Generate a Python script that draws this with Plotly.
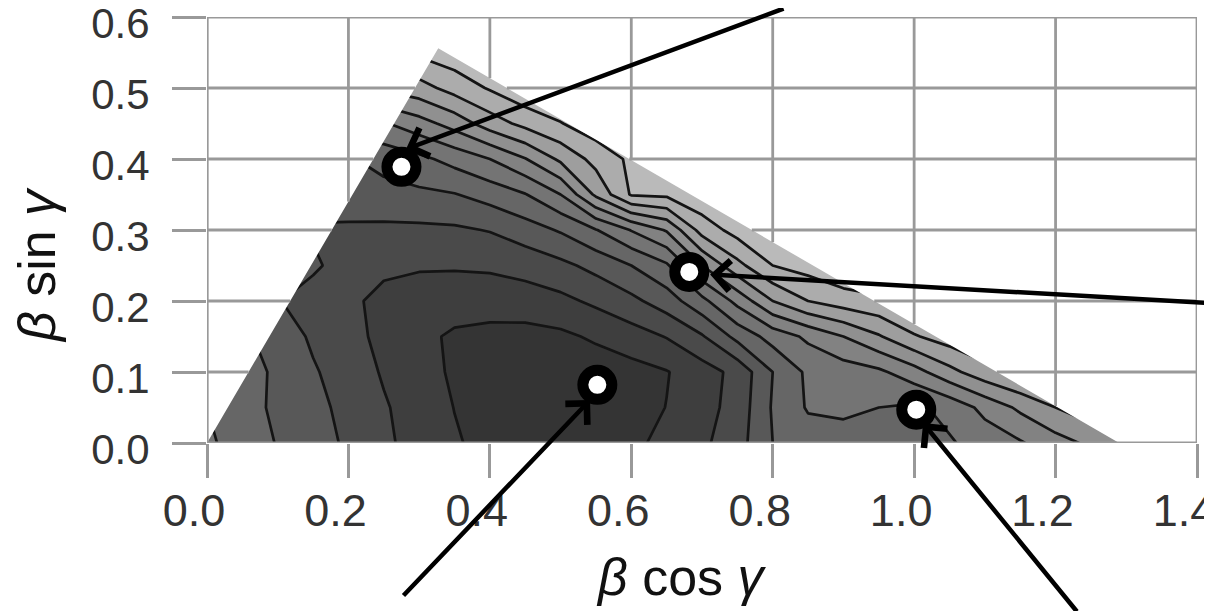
import plotly.graph_objects as go

# ---------------- data ----------------
# node coordinates of the sampled surface
X_GRID = [0.00, 0.05, 0.10, 0.15, 0.20, 0.25, 0.30, 0.35, 0.40, 0.45,
          0.50, 0.55, 0.60, 0.65, 0.70, 0.75, 0.80, 0.85, 0.90, 0.95,
          1.00, 1.05, 1.10, 1.15, 1.20, 1.25, 1.30, 1.35, 1.40]
Y_GRID = [0.00, 0.05, 0.10, 0.15, 0.20, 0.25, 0.30, 0.35, 0.40, 0.45,
          0.50, 0.55, 0.60]

# surface value (contour level index) per row of Y_GRID
Z_Y000 = [5.2, 4.5, 3.95, 3.4, 2.85, 2.2, 1.6, 1.1, 0.7, 0.5, 0.45, 0.5, 0.8, 1.25, 1.8,
          2.6, 4.0, 4.5, 4.6, 4.5, 4.4, 4.9, 5.4, 5.9, 6.6, 7.2, 7.7, 8.2, 8.7]
Z_Y005 = [5.0, 4.3, 3.85, 3.3, 2.7, 2.1, 1.55, 0.98, 0.6, 0.4, 0.35, 0.38, 0.6, 1.02, 1.6,
          2.4, 4.1, 5.1, 5.2, 5.0, 4.8, 5.3, 6.3, 7.2, 8.0, 8.6, 9.1, 9.5, 9.9]
Z_Y010 = [5.0, 4.6, 3.75, 3.1, 2.55, 1.9, 1.4, 0.85, 0.5, 0.4, 0.4, 0.45, 0.65, 0.95, 1.55,
          2.3, 4.0, 5.2, 5.5, 5.8, 6.6, 7.7, 8.6, 9.2, 9.7, 10.1, 10.5, 10.8, 11.0]
Z_Y015 = [4.6, 4.2, 3.55, 2.85, 2.25, 1.8, 1.25, 0.85, 0.7, 0.65, 0.8, 1.15, 1.55, 2.05, 2.9,
          4.3, 5.4, 6.2, 7.0, 7.9, 8.9, 9.5, 10.0, 10.4, 10.7, 11.0, 11.0, 11.0, 11.0]
Z_Y020 = [4.2, 3.7, 3.05, 2.6, 2.15, 1.8, 1.55, 1.45, 1.45, 1.55, 1.75, 2.2, 2.75, 3.5, 4.7,
          6.3, 8.0, 9.0, 9.5, 9.8, 10.3, 10.7, 11.0, 11.0, 11.0, 11.0, 11.0, 11.0, 11.0]
Z_Y025 = [4.0, 3.7, 3.4, 3.15, 2.6, 2.15, 2.1, 2.1, 2.15, 2.35, 2.75, 3.3, 4.0, 4.85, 7.0,
          8.7, 10.0, 10.4, 10.9, 11.0, 11.0, 11.0, 11.0, 11.0, 11.0, 11.0, 11.0, 11.0, 11.0]
Z_Y030 = [3.6, 3.4, 3.15, 2.9, 2.85, 2.8, 2.8, 2.85, 3.05, 3.55, 4.1, 4.95, 6.05, 7.1, 9.4,
          10.4, 11.0, 11.0, 11.0, 11.0, 11.0, 11.0, 11.0, 11.0, 11.0, 11.0, 11.0, 11.0, 11.0]
Z_Y035 = [3.7, 3.6, 3.5, 3.4, 3.5, 3.65, 3.8, 3.95, 4.4, 4.95, 6.0, 8.2, 10.1, 10.2, 10.8,
          11.0, 11.0, 11.0, 11.0, 11.0, 11.0, 11.0, 11.0, 11.0, 11.0, 11.0, 11.0, 11.0, 11.0]
Z_Y040 = [3.9, 3.9, 3.9, 3.9, 3.9, 4.35, 4.75, 5.35, 6.0, 6.95, 8.2, 9.35, 10.2, 10.8, 11.0,
          11.0, 11.0, 11.0, 11.0, 11.0, 11.0, 11.0, 11.0, 11.0, 11.0, 11.0, 11.0, 11.0, 11.0]
Z_Y045 = [5.9, 5.9, 5.9, 5.9, 5.9, 5.9, 6.6, 7.4, 8.5, 9.3, 9.95, 10.6, 11.0, 11.0, 11.0,
          11.0, 11.0, 11.0, 11.0, 11.0, 11.0, 11.0, 11.0, 11.0, 11.0, 11.0, 11.0, 11.0, 11.0]
Z_Y050 = [8.2, 8.2, 8.2, 8.2, 8.2, 8.2, 8.6, 9.4, 10.1, 10.8, 11.0, 11.0, 11.0, 11.0, 11.0,
          11.0, 11.0, 11.0, 11.0, 11.0, 11.0, 11.0, 11.0, 11.0, 11.0, 11.0, 11.0, 11.0, 11.0]
Z_Y055 = [10.0, 10.0, 10.0, 10.0, 10.0, 10.0, 10.2, 10.6, 11.0, 11.0, 11.0, 11.0, 11.0, 11.0, 11.0,
          11.0, 11.0, 11.0, 11.0, 11.0, 11.0, 11.0, 11.0, 11.0, 11.0, 11.0, 11.0, 11.0, 11.0]
Z_Y060 = [11.0, 11.0, 11.0, 11.0, 11.0, 11.0, 11.0, 11.0, 11.0, 11.0, 11.0, 11.0, 11.0, 11.0, 11.0,
          11.0, 11.0, 11.0, 11.0, 11.0, 11.0, 11.0, 11.0, 11.0, 11.0, 11.0, 11.0, 11.0, 11.0]

# corners of the calculated (triangular) domain
TRI_X = [0.0, 0.327, 1.29]
TRI_Y = [0.0, 0.556, 0.0]

# highlighted points
MARK_X = [0.275, 0.682, 0.552, 1.003]
MARK_Y = [0.389, 0.241, 0.082, 0.047]

X_TICKS = [0.0, 0.2, 0.4, 0.6, 0.8, 1.0, 1.2, 1.4]
X_TICK_LABELS = ["0.0", "0.2", "0.4", "0.6", "0.8", "1.0", "1.2", "1.4"]
Y_TICKS = [0.0, 0.1, 0.2, 0.3, 0.4, 0.5, 0.6]
Y_TICK_LABELS = ["0.0", "0.1", "0.2", "0.3", "0.4", "0.5", "0.6"]

BAND_COLORS = ["#343434", "#3e3e3e", "#4a4a4a", "#585858", "#666666", "#747474",
               "#828282", "#909090", "#9e9e9e", "#acacac", "#bababa"]

# ---------------- layout constants ----------------
W, H = 1212, 611
PAGE = 8                      # page body margin of the html page
ML, MT = 207 - PAGE, 17 - PAGE
PW, PH = 990, 426             # plot area size in px
MR = W - ML - PW
MB = H - MT - PH
XR = [0.0, 1.4]
YR = [0.0, 0.6]
GRID_COLOR = "#999999"
GRID_W = 2.8
FONT = "Liberation Sans"
TICK_FONT = "Liberation Sans"


def paper_x(px):  # px: window pixel
    return (px - PAGE - ML) / PW


def paper_y(py):  # py: window pixel
    return (MT + PH - (py - PAGE)) / PH


Z = [Z_Y000, Z_Y005, Z_Y010, Z_Y015, Z_Y020, Z_Y025, Z_Y030,
     Z_Y035, Z_Y040, Z_Y045, Z_Y050, Z_Y055, Z_Y060]

n_b = len(BAND_COLORS)
colorscale = [[i / (n_b - 1), c] for i, c in enumerate(BAND_COLORS)]

fig = go.Figure()
fig.add_trace(go.Contour(
    x=X_GRID, y=Y_GRID, z=Z,
    contours=dict(start=1, end=10, size=1, coloring="fill", showlines=True),
    colorscale=colorscale,
    line=dict(color="#141414", width=2.7, smoothing=0),
    showscale=False,
    hoverinfo="skip",
))

fig.add_trace(go.Scatter(
    x=MARK_X, y=MARK_Y, mode="markers",
    marker=dict(size=29, color="white", line=dict(color="black", width=11)),
    hoverinfo="skip",
))

# ---------------- mask outside the triangle + grid outside ----------------
x0, x1, x2 = TRI_X
y0, y1, y2 = TRI_Y
shapes = []
mask_path = (f"M {XR[0]},{YR[0]} L {XR[1]},{YR[0]} L {XR[1]},{YR[1]} L {XR[0]},{YR[1]} Z "
             f"M {x0},{y0} L {x1},{y1} L {x2},{y2} Z")
shapes.append(dict(type="path", path=mask_path, xref="x", yref="y",
                   fillcolor="white", line=dict(width=0), layer="above"))


def tri_top(c):
    if c <= x0 or c >= x2:
        return YR[0]
    if c <= x1:
        return y1 * (c - x0) / (x1 - x0)
    return y1 * (x2 - c) / (x2 - x1)


def tri_span(c):
    xl = x0 + (x1 - x0) * c / y1
    xr = x2 - (x2 - x1) * c / y1
    return xl, xr


def gline(xa, ya, xb, yb):
    shapes.append(dict(type="line", xref="x", yref="y", x0=xa, y0=ya, x1=xb, y1=yb,
                       line=dict(color=GRID_COLOR, width=GRID_W), layer="above"))


for c in X_TICKS:
    gline(c, tri_top(c), c, YR[1])
for c in Y_TICKS:
    if c <= YR[0] or c >= y1:
        gline(XR[0], c, XR[1], c)
    else:
        xl, xr = tri_span(c)
        gline(XR[0], c, xl, c)
        gline(xr, c, XR[1], c)
gline(XR[0], YR[0], XR[0], YR[1])

# ---------------- arrows ----------------
# (head x, head y) in data units, tail offset in pixels
ARROWS = [
    (0.2815, 0.414, 379, -159),
    (0.7115, 0.2373, 506, 29),
    (0.5417, 0.0606, -188, 197),
    (1.0127, 0.0282, 155, 190),
]
annotations = []
for hx, hy, ax, ay in ARROWS:
    annotations.append(dict(
        x=hx, y=hy, xref="x", yref="y", ax=ax, ay=ay, axref="pixel", ayref="pixel",
        text="", showarrow=True, arrowhead=4, arrowsize=1.3, arrowwidth=4.5,
        arrowcolor="black", standoff=0,
    ))

annotations.append(dict(
    text="<i>β</i> cos <i>γ</i>", xref="paper", yref="paper",
    x=paper_x(681), y=paper_y(577), xanchor="center", yanchor="middle",
    showarrow=False, font=dict(family=FONT, size=52, color="#111111"),
))
annotations.append(dict(
    text="<i>β</i> sin <i>γ</i>", xref="paper", yref="paper",
    x=paper_x(37), y=paper_y(265), xanchor="center", yanchor="middle",
    textangle=-90, showarrow=False, font=dict(family=FONT, size=52, color="#111111"),
))

fig.update_layout(
    width=W, height=H,
    margin=dict(l=ML, r=MR, t=MT, b=MB),
    plot_bgcolor="white", paper_bgcolor="white",
    showlegend=False,
    shapes=shapes,
    annotations=annotations,
    xaxis=dict(
        range=XR, tickvals=X_TICKS, ticktext=X_TICK_LABELS,
        ticks="outside", ticklen=34, tickwidth=GRID_W, tickcolor=GRID_COLOR,
        showgrid=False, zeroline=False, showline=False, automargin=False,
        tickfont=dict(family=TICK_FONT, size=45, color="#333333"),
        ticklabelstandoff=-6, ticklabelshift=-13, ticklabeloverflow="allow",
        fixedrange=True,
    ),
    yaxis=dict(
        range=YR, tickvals=Y_TICKS, ticktext=Y_TICK_LABELS,
        ticks="outside", ticklen=34, tickwidth=GRID_W, tickcolor=GRID_COLOR,
        showgrid=False, zeroline=False, showline=False, automargin=False,
        tickfont=dict(family=TICK_FONT, size=42, color="#333333"),
        ticklabelstandoff=14, ticklabelshift=6, ticklabeloverflow="allow",
        fixedrange=True,
    ),
)

fig.write_html("out.html")
